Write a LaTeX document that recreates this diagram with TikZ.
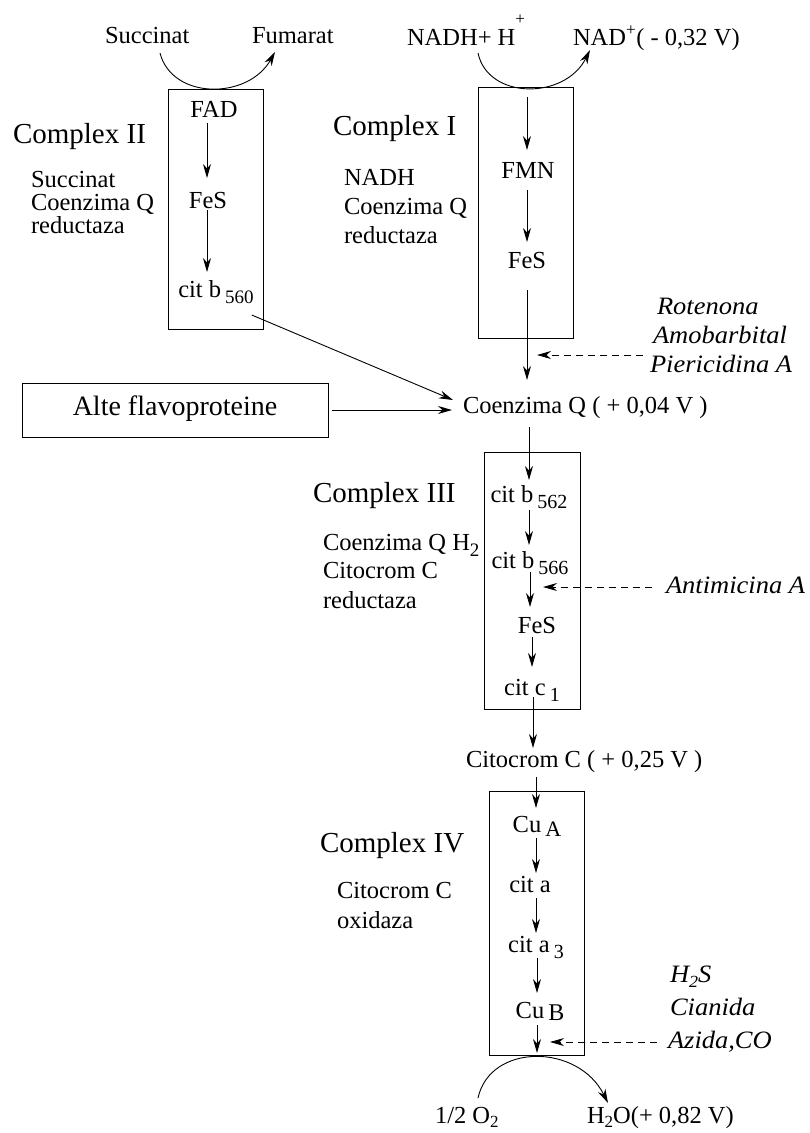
\documentclass[tikz,border=0pt]{standalone}
\usepackage{fontspec}
\setmainfont{Liberation Serif}
\newfontfamily\inhfont[FakeStretch=1.06]{Liberation Serif}
\usetikzlibrary{arrows.meta}

% lowered index: size, drop, content
\newcommand\dropsub[3]{\raisebox{-#2pt}{\fontsize{#1}{#1}\selectfont #3}}

\begin{document}
\begin{tikzpicture}[x=1pt,y=-1pt,
  every node/.style={inner sep=0pt, outer sep=0pt},
  txt/.style={font=\fontsize{24.5}{24.5}\selectfont, anchor=base west, text height=17pt, text depth=2pt},
  chem/.style={font=\fontsize{24.5}{24.5}\selectfont, anchor=base, text height=17pt, text depth=2pt},
  cplx/.style={font=\fontsize{29}{29}\selectfont, anchor=base west},
  inh/.style={font=\inhfont\itshape\fontsize{25}{25}\selectfont, anchor=base west},
  cbox/.style={draw, line width=0.9pt},
  arr/.style={line width=0.9pt, -{Stealth[length=14pt,width=8pt,inset=4.5pt]}},
  dsh/.style={arr, dash pattern=on 7pt off 5pt}]

\useasboundingbox[fill=white] (0,0) rectangle (810,1133);

% column positions of the vertical chains
\coordinate (colII) at (207,0);
\coordinate (colI) at (527,0);
\coordinate (colIII) at (530,0);
\coordinate (colIV) at (536,0);

% ---------- Complex II ----------
\node[cbox, minimum width=95pt, minimum height=240pt] (cIIbox) at (215.5,209) {};
\node[chem] (fad) at (214,117) {FAD};
\node[chem] (fesII) at (208,208) {FeS};
\node[chem] (bsf) at (216,297) {cit b\,\dropsub{19}{6}{560}};
\node[cplx] (cIIname) at (13,143) {Complex II};
\node[txt] (cIIa) at (31,187) {Succinat};
\node[txt] (cIIb) at (31,210) {Coenzima Q};
\node[txt] (cIIc) at (31,233) {reductaza};
\node[txt] (succ) at (105,43) {Succinat};
\node[txt] (fum) at (252,43) {Fumarat};

\draw[arr] ([shift={(55,10)}]succ.base west) .. controls (172,100) and (248,100) .. ([shift={(23,9)}]fum.base west);
\draw[arr, shorten <=4pt, shorten >=13pt] (fad.south -| colII) -- (fesII.north -| colII);
\draw[arr, shorten <=0pt, shorten >=8pt] (fesII.south -| colII) -- (bsf.north -| colII);

% ---------- Complex I ----------
\node[cbox, minimum width=95pt, minimum height=251pt] (cIbox) at (525.5,212.5) {};
\node[chem] (fmn) at (528,178) {FMN};
\node[chem] (fesI) at (527,268) {FeS};
\node[cplx] (cIname) at (333,135) {Complex I};
\node[txt] (cIa) at (344,185) {NADH};
\node[txt] (cIb) at (344,214) {Coenzima Q};
\node[txt] (cIc) at (344,243) {reductaza};
\node[txt] (nadh) at (407,45) {NADH+ H\raisebox{21pt}{\fontsize{17}{17}\selectfont +}};
\node[txt] (nad) at (573,45) {NAD\textsuperscript{+}( - 0,32 V)};

\draw[arr] ([shift={(71,8)}]nadh.base west) .. controls (488,100) and (565,100) .. ([shift={(17,5)}]nad.base west);
\draw[arr, shorten <=10pt, shorten >=11pt] (cIbox.north -| colI) -- (fmn.north -| colI);
\draw[arr, shorten <=10pt, shorten >=9pt] (fmn.south -| colI) -- (fesI.north -| colI);

% inhibitors of complex I
\node[inh] (rot) at (657,314) {Rotenona};
\node[inh] (amo) at (653,343) {Amobarbital};
\node[inh] (pier) at (650,372) {Piericidina A};
\coordinate (qblock) at (537,355);
\draw[dsh] ([shift={(-7,-17)}]pier.base west) -- (qblock);

% ---------- Coenzima Q ----------
\node[txt] (coq) at (463,413) {Coenzima Q ( + 0,04 V )};
\node[cbox, minimum width=306pt, minimum height=54pt, text height=16pt,
      font=\fontsize{28}{28}\selectfont] (alte) at (175,410) {Alte flavoproteine};

\draw[arr, shorten <=20pt, shorten >=16pt] (fesI.south -| colI) -- (coq.north -| colI);
\draw[arr] ([shift={(-2,16)}]bsf.south east) -- ([shift={(-10,-13)}]coq.base west);
\draw[arr, shorten <=4pt, shorten >=11pt] (alte.east) -- (alte.east -| coq.west);

% ---------- Complex III ----------
\node[cbox, minimum width=96pt, minimum height=257pt] (cIIIbox) at (532,580.5) {};
\node[chem] (bsl) at (529,502) {cit b\,\dropsub{20}{6}{562}};
\node[chem] (bss) at (530,568) {cit b\,\dropsub{20}{6}{566}};
\node[chem] (fesIII) at (537,633) {FeS};
\node[chem] (cone) at (532,695) {cit c\,\dropsub{20}{6}{1}};
\node[cplx] (cIIIname) at (313,502) {Complex III};
\node[txt] (cIIIa) at (323,550) {Coenzima Q H\dropsub{19}{6}{2}};
\node[txt] (cIIIb) at (323,578) {Citocrom C};
\node[txt] (cIIIc) at (323,608) {reductaza};

\draw[arr, shorten <=12pt, shorten >=5pt] (coq.south -| bsl) -- (bsl.north);
\draw[arr, shorten <=6pt, shorten >=6pt] (bsl.south) -- (bss.north -| bsl);
\draw[arr, shorten <=2pt, shorten >=9pt] (bss.south -| colIII) -- (fesIII.north -| colIII);
\draw[arr, shorten <=2pt, shorten >=11pt] (fesIII.south -| cone) -- (cone.north);

% inhibitor of complex III
\node[inh] (anti) at (666,593) {Antimicina A};
\coordinate (bcblock) at (543,587);
\draw[dsh] ([shift={(-14,-6)}]anti.base west) -- (bcblock);

% ---------- Citocrom C ----------
\node[txt] (cytc) at (466,767) {Citocrom C ( + 0,25 V )};
\draw[arr, shorten <=0pt, shorten >=2pt] ([xshift=1pt]cone.south) -- ([xshift=1pt]cone.south |- cytc.north);

% ---------- Complex IV ----------
\node[cbox, minimum width=95pt, minimum height=264pt] (cIVbox) at (536.5,923) {};
\node[chem] (cua) at (537,832) {Cu\,\dropsub{22}{4}{A}};
\node[chem] (cia) at (530,892) {cit a};
\node[chem] (ciaa) at (536,952) {cit a\,\dropsub{20}{6}{3}};
\node[chem] (cub) at (540,1018) {Cu\,\dropsub{24}{2}{B}};
\node[cplx] (cIVname) at (320,852) {Complex IV};
\node[txt] (cIVa) at (337,898) {Citocrom C};
\node[txt] (cIVb) at (337,928) {oxidaza};

\draw[arr, shorten <=8pt, shorten >=7pt] (cytc.south -| colIV) -- (cua.north -| colIV);
\draw[arr, shorten <=4pt, shorten >=2pt] (cua.south -| colIV) -- (cia.north -| colIV);
\draw[arr, shorten <=4pt, shorten >=2pt] (cia.south -| colIV) -- (ciaa.north -| colIV);
\draw[arr, shorten <=4pt, shorten >=8pt] ([xshift=1pt]ciaa.south -| colIV) -- ([xshift=1pt]cub.north -| colIV);
\draw[arr, shorten <=5pt, shorten >=2pt] ([xshift=1pt]cub.south -| colIV) -- ([xshift=1pt]cIVbox.south -| colIV);

% inhibitors of complex IV
\node[inh] (hts) at (670,982) {H\dropsub{17}{5}{2}S};
\node[inh] (cian) at (670,1015) {Cianida};
\node[inh] (azi) at (668,1048) {Azida,CO};
\coordinate (cublock) at (550,1042);
\draw[dsh] ([shift={(-11,-6)}]azi.base west) -- (cublock);

% ---------- oxygen ----------
\node[txt] (otwo) at (435,1123) {1/2 O\dropsub{17}{4}{2}};
\node[txt] (water) at (587,1123) {H\dropsub{17}{4}{2}O(+ 0,82 V)};
\draw[arr] ([shift={(43,-25)}]otwo.base west) .. controls (490,1043) and (578,1043) .. ([shift={(21,-20)}]water.base west);

\end{tikzpicture}
\end{document}
